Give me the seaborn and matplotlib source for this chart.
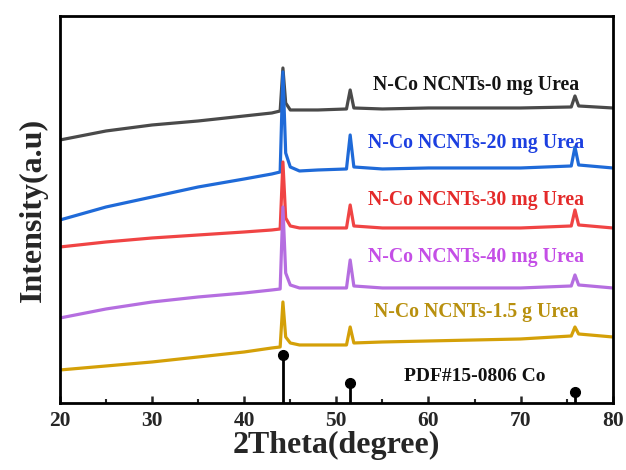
import matplotlib
matplotlib.use("Agg")
import matplotlib.pyplot as plt
from matplotlib.ticker import MultipleLocator
import seaborn as sns
import pandas as pd

two_theta = [20, 25, 30, 35, 40, 43.0, 43.9, 44.2, 44.5, 45.0, 46, 48, 51.1, 51.5, 51.9,
             55, 60, 65, 70, 75.5, 75.9, 76.3, 80]
urea_0mg = [263, 272, 278, 282, 287, 290, 292, 335, 300, 293, 293, 293, 294, 313, 295,
            294, 295, 295, 295, 296, 307, 297, 295]
urea_20mg = [183, 196, 206, 216, 224, 229, 231, 331, 250, 236, 232, 233, 234, 268, 236,
             234, 235, 235, 235, 237, 256, 238, 235]
urea_30mg = [156, 161, 165, 168, 171, 173, 174, 241, 185, 177, 175, 175, 175, 198, 177,
             175, 175, 175, 175, 177, 193, 178, 175]
urea_40mg = [85, 94, 101, 106, 110, 113, 114, 196, 130, 118, 115, 115, 115, 143, 117,
             115, 115, 115, 115, 117, 128, 118, 115]
urea_1_5g = [33, 37, 41, 46, 51, 55, 56, 101, 66, 60, 58, 58, 58, 76, 60,
             61, 62, 63, 64, 67, 76, 69, 66]

series_labels = ["N-Co NCNTs-0 mg Urea", "N-Co NCNTs-20 mg Urea", "N-Co NCNTs-30 mg Urea",
                 "N-Co NCNTs-40 mg Urea", "N-Co NCNTs-1.5 g Urea"]
line_colors = ["#4a4a4a", "#1f6ad8", "#f04444", "#b56ee0", "#d4a008"]
text_colors = ["#141414", "#1c3fe0", "#e42a2a", "#c44ee6", "#b8900e"]
label_y = [318, 260, 203, 146, 91]

pdf_pos = [44.2, 51.5, 75.9]
pdf_int = [48, 20, 11]
pdf_label = "PDF#15-0806 Co"

sns.set_style("ticks")
plt.rcParams["font.family"] = ["Liberation Serif", "DejaVu Serif"]
plt.rcParams["font.weight"] = "bold"

fig = plt.figure(figsize=(6.26, 4.70), dpi=100)
ax = fig.add_axes([0.0958, 0.1426, 0.883, 0.8234])

all_y = [urea_0mg, urea_20mg, urea_30mg, urea_40mg, urea_1_5g]
for ys, lab, c in zip(all_y, series_labels, line_colors):
    df = pd.DataFrame({"x": two_theta, "y": ys})
    sns.lineplot(data=df, x="x", y="y", ax=ax, color=c, linewidth=2.3, legend=False)

for p, h in zip(pdf_pos, pdf_int):
    ax.plot([p, p], [0, h], color="black", linewidth=2.0)
    ax.plot([p], [h], marker="o", markersize=7, color="black")

for lab, ly, tc in zip(series_labels, label_y, text_colors):
    ax.text(65.2, ly, lab, color=tc, fontsize=14.2, fontweight="bold",
            ha="center", va="center")
ax.text(65.0, 26, pdf_label, color="#111111", fontsize=14, fontweight="bold",
        ha="center", va="center")

ax.set_xlim(20, 80)
ax.set_ylim(0, 387)
ax.set_yticks([])
ax.xaxis.set_major_locator(MultipleLocator(10))
ax.xaxis.set_minor_locator(MultipleLocator(5))
ax.tick_params(axis="x", which="major", direction="in", length=5, width=1.8,
               labelsize=15.5, pad=6)
ax.tick_params(axis="x", which="minor", direction="in", length=3, width=1.5)
for lbl in ax.get_xticklabels():
    lbl.set_fontweight("bold")
for s in ax.spines.values():
    s.set_visible(True)
    s.set_linewidth(2.0)
    s.set_color("black")

ax.set_xlabel("2Theta(degree)", fontsize=23, fontweight="bold", labelpad=0)
ax.set_ylabel("Intensity(a.u)", fontsize=23, fontweight="bold", labelpad=9)

fig.savefig("out.png", dpi=100)
